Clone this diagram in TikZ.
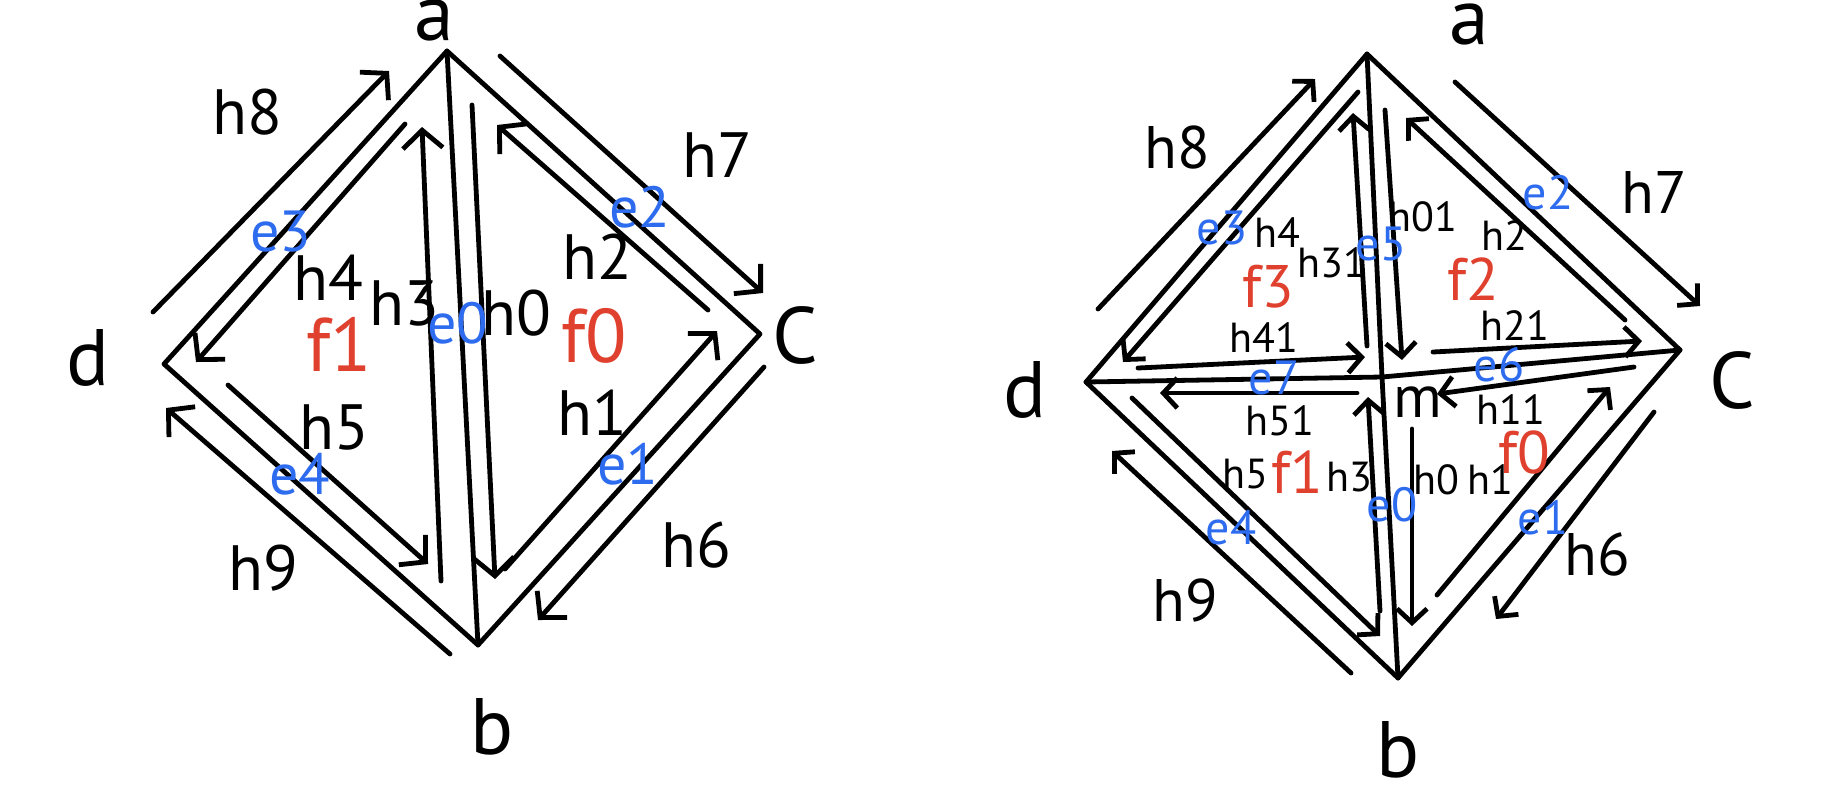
\documentclass[tikz,border=0pt]{standalone}
\usepackage{fontspec}
\setmainfont{PT Sans}
\usetikzlibrary{arrows.meta}
\definecolor{fred}{HTML}{E0412E}
\definecolor{fblue}{HTML}{2D6BEF}
\begin{document}
\begin{tikzpicture}[x=0.5pt,y=-0.5pt,line width=2.4pt,line cap=round,line join=round,
  halfL/.style={-{Straight Barb[length=9pt,width=20pt,line width=2.4pt]}},
  halfR/.style={-{Straight Barb[length=7pt,width=15pt,line width=2.4pt]}},
  vlbl/.style={font=\fontsize{40}{42}\selectfont,inner sep=0pt},
  blbl/.style={font=\fontsize{32}{34}\selectfont,inner sep=0pt},
  slbl/.style={font=\fontsize{21}{23}\selectfont,inner sep=0pt},
  mlbl/.style={font=\fontsize{30}{32}\selectfont,inner sep=0pt},
  flblL/.style={text=fred,font=\fontsize{38}{40}\selectfont,inner sep=0pt},
  flblR/.style={text=fred,font=\fontsize{30}{32}\selectfont,inner sep=0pt},
  elblL/.style={text=fblue,font=\fontsize{29}{31}\selectfont,inner sep=0pt},
  elblR/.style={text=fblue,font=\fontsize{24}{26}\selectfont,inner sep=0pt}]
\useasboundingbox (0,0) rectangle (1841,800);
% ================= LEFT =================
\coordinate (La) at (447,51);
\coordinate (Lb) at (478,645);
\coordinate (Lc) at (760,334);
\coordinate (Ld) at (164,364);
\draw (La) -- (Lc) -- (Lb) -- (Ld) -- cycle;
\draw (La) -- (Lb);
% half-edge endpoints
\coordinate (L8s) at (153,312); \coordinate (L8t) at (389,71);
\coordinate (L7s) at (500,56);  \coordinate (L7t) at (763,293);
\coordinate (L6s) at (764,367); \coordinate (L6t) at (538,620);
\coordinate (L9s) at (450,654); \coordinate (L9t) at (166,408);
\coordinate (L4s) at (405,124); \coordinate (L4t) at (196,362);
\coordinate (L5s) at (228,385); \coordinate (L5t) at (428,564);
\coordinate (L3s) at (441,581); \coordinate (L3t) at (422,127);
\coordinate (L0s) at (472,105); \coordinate (L0t) at (495,579);
\coordinate (L1s) at (505,569); \coordinate (L1t) at (717,331);
\coordinate (L2s) at (708,310); \coordinate (L2t) at (497,125);
\foreach \i in {0,...,9} {\draw[halfL] (L\i s) -- (L\i t);}
% labels
\node[vlbl,anchor=base] (lA) at (434,40) {a};
\node[vlbl] (lB) at (492,727) {b};
\node[vlbl] (lC) at (795,335) {C};
\node[vlbl] (lD) at (88,358) {d};
\node[blbl] (lh8) at (247,112) {h8};
\node[blbl] (lh7) at (717,155) {h7};
\node[blbl] (lh6) at (696,545) {h6};
\node[blbl] (lh9) at (263,568) {h9};
\node[blbl] (lh4) at (328,278) {h4};
\node[blbl] (lh5) at (334,427) {h5};
\node[blbl] (lh3) at (404,303) {h3};
\node[blbl] (lh0) at (516,313) {h0};
\node[blbl] (lh2) at (597,257) {h2};
\node[blbl] (lh1) at (592,413) {h1};
\node[flblL] (lf1) at (339,344) {f1};
\node[flblL] (lf0) at (594,336) {f0};
\node[elblL] (le3) at (281,232) {e3};
\node[elblL] (le2) at (640,207) {e2};
\node[elblL] (le0) at (458,323) {e0};
\node[elblL] (le4) at (300,474) {e4};
\node[elblL] (le1) at (628,464) {e1};
% ================= RIGHT =================
\coordinate (Ra) at (1367,54);
\coordinate (Rb) at (1398,678);
\coordinate (Rc) at (1680,350);
\coordinate (Rd) at (1086,382);
\coordinate (Rm) at (1382,377);
\draw (Ra) -- (Rc) -- (Rb) -- (Rd) -- cycle;
\draw (Ra) -- (Rm) -- (Rb);
\draw (Rd) -- (Rm) -- (Rc);
\coordinate (R8s) at (1098,309);  \coordinate (R8t) at (1315,79);
\coordinate (R7s) at (1455,82);   \coordinate (R7t) at (1700,306);
\coordinate (R6s) at (1654,412);  \coordinate (R6t) at (1496,619);
\coordinate (R9s) at (1351,673);  \coordinate (R9t) at (1112,451);
\coordinate (R4s) at (1358,92);   \coordinate (R4t) at (1123,362);
\coordinate (R41s) at (1138,368); \coordinate (R41t) at (1365,357);
\coordinate (R31s) at (1367,346); \coordinate (R31t) at (1353,113);
\coordinate (R01s) at (1385,110); \coordinate (R01t) at (1402,360);
\coordinate (R2s) at (1625,320);  \coordinate (R2t) at (1406,118);
\coordinate (R21s) at (1433,352); \coordinate (R21t) at (1642,341);
\coordinate (R11s) at (1634,367); \coordinate (R11t) at (1437,394);
\coordinate (R51s) at (1357,393); \coordinate (R51t) at (1160,393);
\coordinate (R5s) at (1132,398);  \coordinate (R5t) at (1380,636);
\coordinate (R3s) at (1380,611);  \coordinate (R3t) at (1368,397);
\coordinate (R0s) at (1412,429);  \coordinate (R0t) at (1412,626);
\coordinate (R1s) at (1437,595);  \coordinate (R1t) at (1610,387);
\foreach \i in {8,7,6,9,4,41,31,01,2,21,11,51,5,3,0,1} {\draw[halfR] (R\i s) -- (R\i t);}
\node[vlbl,anchor=base] (rA) at (1469,44) {a};
\node[vlbl] (rB) at (1398,750) {b};
\node[vlbl] (rC) at (1732,380) {C};
\node[vlbl] (rD) at (1025,390) {d};
\node[mlbl] (rM) at (1418,402) {m};
\node[mlbl] (rh8) at (1177,147) {h8};
\node[mlbl] (rh7) at (1654,192) {h7};
\node[mlbl] (rh6) at (1597,554) {h6};
\node[mlbl] (rh9) at (1185,600) {h9};
\node[slbl] (rh4) at (1277,233) {h4};
\node[slbl] (rh31) at (1332,263) {h31};
\node[slbl] (rh01) at (1423,217) {h01};
\node[slbl] (rh2) at (1504,236) {h2};
\node[slbl] (rh41) at (1264,338) {h41};
\node[slbl] (rh21) at (1515,326) {h21};
\node[slbl] (rh51) at (1280,421) {h51};
\node[slbl] (rh11) at (1511,410) {h11};
\node[slbl] (rh5) at (1245,474) {h5};
\node[slbl] (rh3) at (1349,477) {h3};
\node[slbl] (rh0) at (1436,480) {h0};
\node[slbl] (rh1) at (1490,480) {h1};
\node[flblR] (rf3) at (1268,287) {f3};
\node[flblR] (rf2) at (1473,279) {f2};
\node[flblR] (rf1) at (1297,472) {f1};
\node[flblR] (rf0) at (1524,452) {f0};
\node[elblR] (re3) at (1222,228) {e3};
\node[elblR] (re5) at (1381,244) {e5};
\node[elblR] (re2) at (1548,193) {e2};
\node[elblR] (re7) at (1274,378) {e7};
\node[elblR] (re6) at (1499,365) {e6};
\node[elblR] (re0) at (1392,505) {e0};
\node[elblR] (re4) at (1231,528) {e4};
\node[elblR] (re1) at (1543,518) {e1};
\end{tikzpicture}
\end{document}
